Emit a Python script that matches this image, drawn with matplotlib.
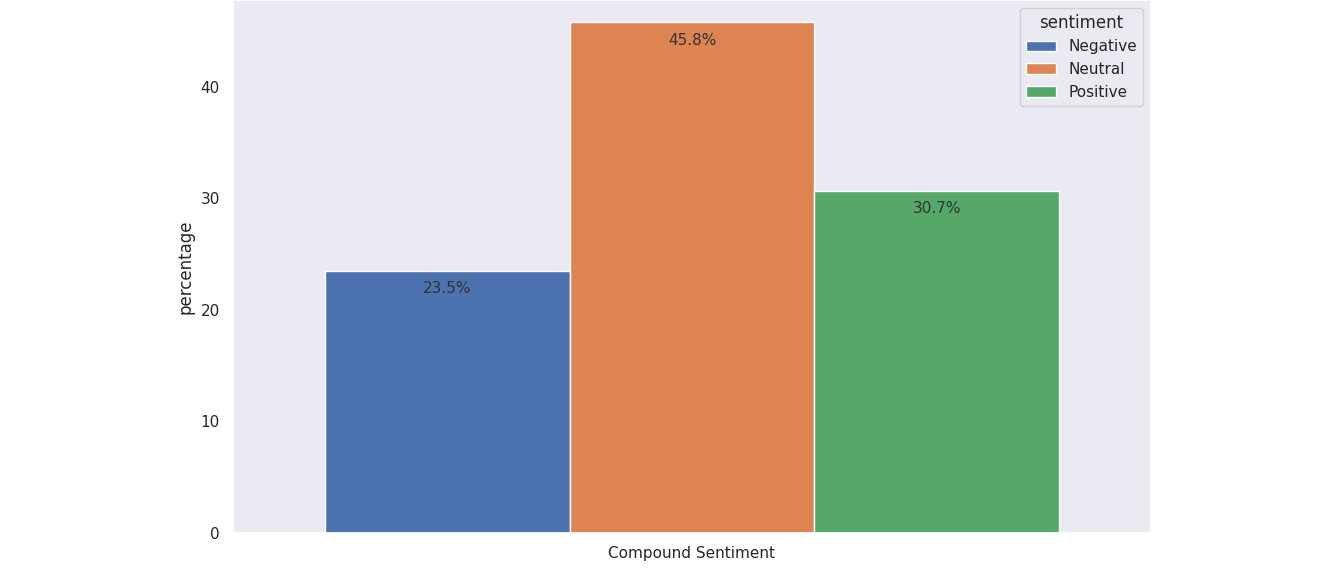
import matplotlib
matplotlib.use("Agg")
import matplotlib.pyplot as plt
import seaborn as sns

categories = ["Compound Sentiment"]
sentiments = ["Negative", "Neutral", "Positive"]
percentages = [23.5, 45.8, 30.7]

sns.set_theme(style="dark")
fig = plt.figure(figsize=(13.43, 5.7), dpi=100)
ax = fig.add_axes([0.1735, 0.065, 0.6835, 0.935])

colors = sns.color_palette("deep", 3)
width = 0.8 / len(sentiments)
for i, (s, p) in enumerate(zip(sentiments, percentages)):
    x = -0.4 + width * (i + 0.5)
    ax.bar(x, p, width=width, color=colors[i], label=s, edgecolor="white")
    ax.annotate(f"{p}%", (x, p), xytext=(0, -13), textcoords="offset points",
                ha="center", va="center", fontsize=11, color="#333333")

ax.set_xlim(-0.5, 0.5)
ax.set_ylim(0, 47.8)
ax.set_xticks([0])
ax.set_xticklabels(categories)
ax.set_ylabel("percentage")
ax.legend(title="sentiment", loc="upper right")

fig.savefig("out.png", dpi=100)
